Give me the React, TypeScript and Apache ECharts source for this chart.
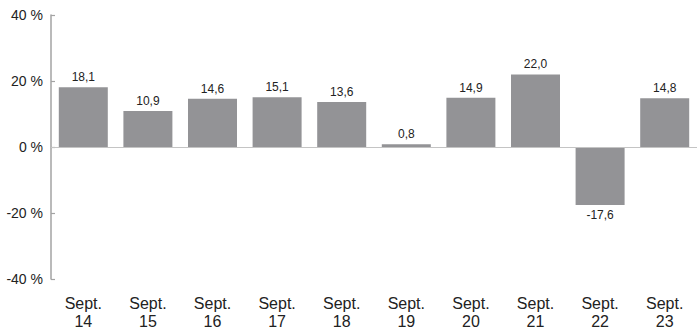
import React, { useEffect, useRef } from "react";
import * as echarts from "echarts";

const categories = ["Sept.\n14", "Sept.\n15", "Sept.\n16", "Sept.\n17", "Sept.\n18", "Sept.\n19", "Sept.\n20", "Sept.\n21", "Sept.\n22", "Sept.\n23"];
const values = [18.1, 10.9, 14.6, 15.1, 13.6, 0.8, 14.9, 22.0, -17.6, 14.8];
const yTicks = { min: -40, max: 40, interval: 20 };

const FONT = "'Liberation Sans', Arial, Helvetica, sans-serif";

export default function App() {
  const ref = useRef<HTMLDivElement>(null);
  useEffect(() => {
    if (!ref.current) return;
    const chart = echarts.init(ref.current, null, { renderer: "svg" });
    chart.setOption({
      animation: false,
      textStyle: { fontFamily: FONT },
      grid: { left: 51, top: 15, width: 648, height: 264, containLabel: false },
      xAxis: {
        type: "category",
        data: categories,
        axisLine: { show: false, onZero: false },
        axisTick: { show: false },
        axisLabel: {
          margin: 15,
          fontSize: 16,
          lineHeight: 18,
          color: "#222",
          fontFamily: FONT,
          interval: 0,
        },
        splitLine: { show: false },
      },
      yAxis: {
        type: "value",
        min: yTicks.min,
        max: yTicks.max,
        interval: yTicks.interval,
        axisLine: { show: true, lineStyle: { color: "#a3a3a3", width: 1.5 } },
        axisTick: { show: true, inside: true, length: 4, lineStyle: { color: "#a3a3a3", width: 1.2 } },
        axisLabel: {
          margin: 8,
          fontSize: 14,
          color: "#222",
          fontFamily: FONT,
          formatter: (v: number) => `${v} %`,
        },
        splitLine: { show: false },
      },
      series: [
        {
          type: "bar",
          barWidth: 49,
          data: values.map((v) => ({
            value: v,
            label: { position: v < 0 ? "bottom" : "top" },
          })),
          itemStyle: { color: "#939396" },
          label: {
            show: true,
            distance: 4,
            fontSize: 12,
            color: "#222",
            fontFamily: FONT,
            formatter: (p: any) => p.value.toFixed(1).replace(".", ","),
          },
          markLine: {
            silent: true,
            symbol: "none",
            label: { show: false },
            lineStyle: { color: "#c4c4c4", width: 1.2, type: "solid" },
            data: [{ yAxis: 0 }],
          },
        },
      ],
    });
    return () => chart.dispose();
  }, []);
  return <div ref={ref} style={{ width: 697, height: 330, position: "absolute", left: 0, top: 0 }} />;
}
